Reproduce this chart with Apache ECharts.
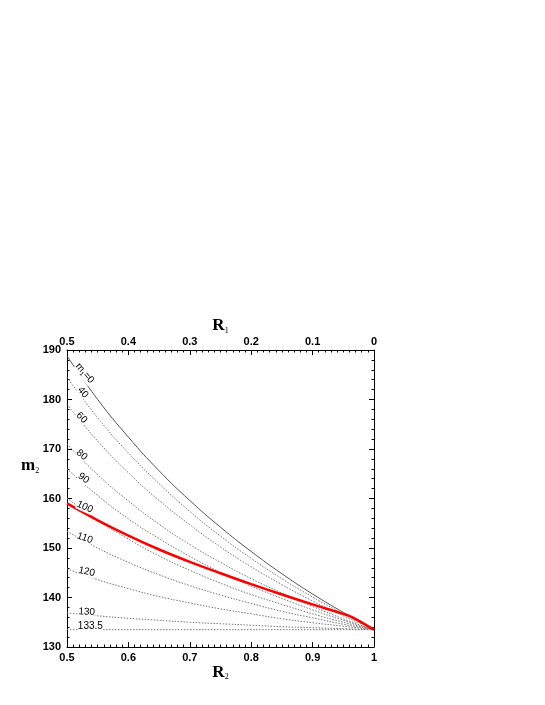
<!DOCTYPE html>
<html>
<head>
<meta charset="utf-8">
<script src="https://cdn.jsdelivr.net/npm/echarts@6/dist/echarts.min.js"></script>
<style>
  html, body { margin: 0; padding: 0; background: #fff; }
  #main { width: 545px; height: 705px; }
</style>
</head>
<body>
<div id="main"></div>
<script>
// R2 sample points (bottom axis), R1 = 1 - R2 on the top axis
var r2 = [0.5, 0.55, 0.6, 0.65, 0.7, 0.75, 0.8, 0.85, 0.9, 0.95, 1];

// m2
var m1_0   = [188.8, 180.0, 172.4, 165.6, 159.6, 154.2, 149.3, 144.8, 140.7, 137.0, 133.5];
var m1_40  = [184.5, 176.3, 169.2, 163.0, 157.4, 152.4, 147.9, 143.8, 140.1, 136.7, 133.5];
var m1_60  = [179.0, 171.6, 165.2, 159.6, 154.7, 150.2, 146.2, 142.6, 139.3, 136.3, 133.5];
var m1_80  = [171.0, 164.8, 159.5, 154.8, 150.7, 147.1, 143.8, 140.9, 138.2, 135.7, 133.5];
var m1_90  = [166.0, 160.6, 155.9, 151.9, 148.3, 145.1, 142.3, 139.8, 137.5, 135.4, 133.5];
var m1_100 = [160.1, 155.6, 151.8, 148.4, 145.5, 142.9, 140.6, 138.6, 136.7, 135.0, 133.5];
var m1_110 = [153.4, 150.0, 147.1, 144.6, 142.4, 140.5, 138.8, 137.2, 135.9, 134.6, 133.5];
var m1_120 = [145.8, 143.6, 141.8, 140.2, 138.9, 137.7, 136.7, 135.7, 134.9, 134.2, 133.5];
var m1_130 = [136.9, 136.3, 135.8, 135.4, 135.0, 134.7, 134.4, 134.1, 133.9, 133.7, 133.5];
var m1_1335 = [133.5, 133.5, 133.5, 133.5, 133.5, 133.5, 133.5, 133.5, 133.5, 133.5, 133.5];

// red curve
var redR2 = [0.5, 0.55, 0.6, 0.65, 0.7, 0.75, 0.8, 0.85, 0.9, 0.95, 0.965, 1];
var redM2 = [159.0, 155.6, 152.5, 149.7, 147.2, 144.9, 142.7, 140.6, 138.6, 136.7, 136.0, 133.5];

var curveNames = ['m1=0', '40', '60', '80', '90', '100', '110', '120', '130', '133.5'];
var curves = [m1_0, m1_40, m1_60, m1_80, m1_90, m1_100, m1_110, m1_120, m1_130, m1_1335];

// where the curve labels sit (data coords) and their tilt in degrees
var labelPos = [
    [0.529, 185.3, -50], [0.526, 181.4, -50], [0.524, 176.3, -45], [0.524, 168.8, -40],
    [0.527, 164.1, -35], [0.529, 158.3, -25], [0.529, 152.0, -20], [0.532, 145.2, -12],
    [0.532, 137.1, -3], [0.538, 134.1, 0]
];

function pairs(xs, ys) {
    return xs.map(function (x, i) { return [x, ys[i]]; });
}

var chart = echarts.init(document.getElementById('main'), null, { renderer: 'canvas' });

var tickFont = { color: '#000', fontSize: 11, fontFamily: 'Liberation Sans', fontWeight: 'bold' };
var nameRich = {
    a: { fontFamily: 'Liberation Serif', fontWeight: 'bold', fontSize: 17, color: '#000' },
    b: { fontFamily: 'Liberation Serif', fontSize: 8, color: '#000', padding: [10, 0, 0, 0] }
};
var line = { show: true, onZero: false, lineStyle: { color: '#000', width: 1 } };

var series = curves.map(function (c, i) {
    return {
        type: 'line',
        data: pairs(r2, c),
        smooth: true,
        symbol: 'none',
        silent: true,
        lineStyle: i === 0
            ? { color: '#555', width: 1, type: 'solid' }
            : { color: '#777', width: 1, type: [1.5, 1.5] }
    };
});
series.push({
    type: 'line',
    data: pairs(redR2, redM2),
    smooth: 0.4,
    symbol: 'none',
    silent: true,
    z: 5,
    lineStyle: { color: '#ff0000', width: 2.5 }
});

chart.setOption({
    animation: false,
    backgroundColor: '#fff',
    grid: { left: 67, top: 350, width: 307, height: 297 },
    xAxis: [{
        type: 'value', position: 'bottom', min: 0.5, max: 1, interval: 0.1,
        name: '{a|R}{b|2}', nameLocation: 'middle', nameGap: 15,
        nameTextStyle: { rich: nameRich },
        axisLine: line,
        axisTick: { inside: true, length: 5, lineStyle: { color: '#000' } },
        minorTick: { show: true, splitNumber: 10, length: 2.5, lineStyle: { color: '#000' } },
        splitLine: { show: false },
        axisLabel: Object.assign({ margin: 5, formatter: function (v) { return v === 1 ? '1' : v.toFixed(1); } }, tickFont)
    }, {
        type: 'value', position: 'top', min: 0, max: 0.5, interval: 0.1, inverse: true,
        name: '{a|R}{b|1}', nameLocation: 'middle', nameGap: 14,
        nameTextStyle: { rich: nameRich },
        axisLine: line,
        axisTick: { inside: true, length: 5, lineStyle: { color: '#000' } },
        minorTick: { show: true, splitNumber: 10, length: 2.5, lineStyle: { color: '#000' } },
        splitLine: { show: false },
        axisLabel: Object.assign({ margin: 3, formatter: function (v) { return v === 0 ? '0' : v.toFixed(1); } }, tickFont)
    }],
    yAxis: [{
        type: 'value', position: 'left', min: 130, max: 190, interval: 10,
        axisLine: line,
        axisTick: { inside: true, length: 5, lineStyle: { color: '#000' } },
        minorTick: { show: true, splitNumber: 5, length: 2.5, lineStyle: { color: '#000' } },
        splitLine: { show: false },
        axisLabel: Object.assign({ margin: 6 }, tickFont)
    }, {
        type: 'value', position: 'right', min: 130, max: 190, interval: 10,
        axisLine: line,
        axisTick: { inside: true, length: 5, lineStyle: { color: '#000' } },
        minorTick: { show: true, splitNumber: 5, length: 2.5, lineStyle: { color: '#000' } },
        splitLine: { show: false },
        axisLabel: { show: false }
    }],
    series: series
});

// curve labels placed through the axes
var labelRich = {
    t: { fontFamily: 'Liberation Sans', fontSize: 10, fill: '#000' },
    s: { fontFamily: 'Liberation Sans', fontSize: 6, fill: '#000', padding: [6, 0, 0, 0] }
};
var graphics = curveNames.map(function (name, i) {
    var p = chart.convertToPixel({ xAxisIndex: 0, yAxisIndex: 0 }, [labelPos[i][0], labelPos[i][1]]);
    var text = i === 0 ? '{t|m}{s|1}{t|=0}' : '{t|' + name + '}';
    return {
        type: 'text',
        x: p[0], y: p[1],
        rotation: labelPos[i][2] * Math.PI / 180,
        z: 10,
        style: {
            text: text, rich: labelRich,
            align: 'center', verticalAlign: 'middle',
            backgroundColor: '#fff'
        }
    };
});
// y axis title sits above the middle of the axis
graphics.push({
    type: 'text', left: 21, top: 457,
    style: {
        text: '{a|m}{b|2}',
        rich: {
            a: { fontFamily: 'Liberation Serif', fontWeight: 'bold', fontSize: 17, fill: '#000' },
            b: { fontFamily: 'Liberation Serif', fontSize: 8, fill: '#000', padding: [10, 0, 0, 0] }
        }
    }
});
chart.setOption({ graphic: graphics });
</script>
</body>
</html>
